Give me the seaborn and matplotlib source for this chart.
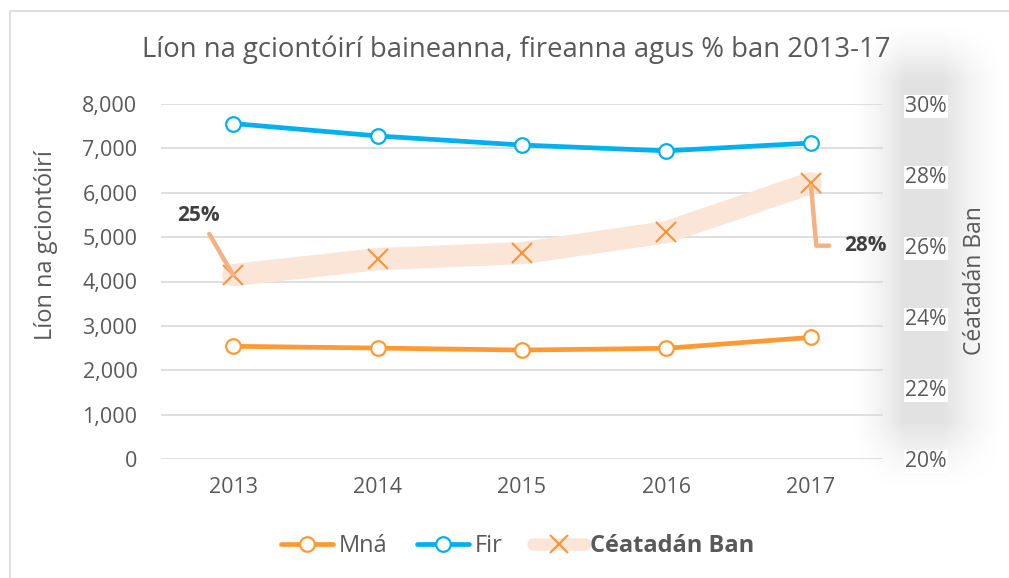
import numpy as np
import pandas as pd
import matplotlib
matplotlib.use("Agg")
import matplotlib.pyplot as plt
from matplotlib.lines import Line2D
import seaborn as sns

# data
years = ["2013", "2014", "2015", "2016", "2017"]
mna = [2540, 2500, 2455, 2495, 2740]
fir = [7560, 7280, 7075, 6945, 7120]
pct_ban = [0.2518, 0.2563, 0.2580, 0.2639, 0.2777]

ORANGE = "#FF9933"
BLUE = "#00B0F0"
BAND = "#FBE5D6"
XMARK = "#F7953D"
LEADER = "#F4B183"
GREY = "#595959"

sns.set_theme(style="white")
plt.rcParams["font.family"] = ["Open Sans", "DejaVu Sans"]

df = pd.DataFrame({"idx": range(len(years)), "Mná": mna, "Fir": fir, "pct": pct_ban})

fig = plt.figure(figsize=(10.09, 5.78), dpi=100)

# outer frame of the chart area
fig.patches.append(plt.Rectangle((10 / 1009, -0.1), 1.2, 1 - 11 / 578 + 0.1,
                                 transform=fig.transFigure, fill=False,
                                 edgecolor="#D9D9D9", lw=1.2, zorder=0))

# soft grey glow behind the secondary axis
bg = fig.add_axes([848 / 1009, 1 - 495 / 578, 161 / 1009, 475 / 578], zorder=-1)
gx = np.linspace(0, 1, 161)
gy = np.linspace(0, 1, 475)
px = np.clip(gx / 0.35, 0, 1) ** 1.5 * np.clip((1.0 - gx) / 0.4, 0, 1) ** 1.5
py = np.clip(gy / 0.12, 0, 1) ** 1.5 * np.clip((1 - gy) / 0.15, 0, 1) ** 1.5
prof = py[:, None] * px[None, :]
bg.imshow(1 - 0.11 * prof, cmap="gray", vmin=0, vmax=1, aspect="auto", interpolation="bilinear")
bg.axis("off")

ax = fig.add_axes([161 / 1009, 1 - 459 / 578, 722 / 1009, 355 / 578])
ax.set_facecolor("none")

sns.lineplot(data=df, x="idx", y="Mná", ax=ax, color=ORANGE, lw=3.4, marker="o",
             markersize=10.5, markerfacecolor="white", markeredgecolor=ORANGE,
             markeredgewidth=1.6, label="Mná", legend=False, zorder=5)
sns.lineplot(data=df, x="idx", y="Fir", ax=ax, color=BLUE, lw=3.4, marker="o",
             markersize=10.5, markerfacecolor="white", markeredgecolor=BLUE,
             markeredgewidth=1.6, label="Fir", legend=False, zorder=5)

ax.set_xlim(-0.5, len(years) - 0.5)
ax.set_ylim(0, 8000)
ax.set_yticks(range(0, 8001, 1000))
ax.set_yticklabels([f"{v:,}" for v in range(0, 8001, 1000)])
ax.set_xticks(range(len(years)))
ax.set_xticklabels(years)
ax.grid(axis="y", color="#D9D9D9", lw=1.2)
ax.grid(axis="x", visible=False)
for s in ax.spines.values():
    s.set_visible(False)
ax.tick_params(axis="y", length=0, pad=17, labelsize=15.5, labelcolor=GREY)
ax.tick_params(axis="x", length=0, pad=13, labelsize=15.5, labelcolor=GREY)
ax.set_xlabel("")
ax.set_ylabel("Líon na gciontóirí", fontsize=17, color=GREY)
ax.yaxis.set_label_coords(-103 / 722, (459 - 245) / 355)

ax2 = ax.twinx()
ax2.set_facecolor("none")
sns.lineplot(data=df, x="idx", y="pct", ax=ax2, color=BAND, lw=16,
             solid_capstyle="round", solid_joinstyle="round", legend=False, zorder=2)
sns.lineplot(data=df, x="idx", y="pct", ax=ax2, color=XMARK, lw=0, marker="x",
             markersize=14, markeredgecolor=XMARK, markeredgewidth=1.5,
             legend=False, zorder=3)
ax2.set_ylim(0.20, 0.30)
ax2.set_yticks(np.arange(0.20, 0.301, 0.02))
ax2.set_yticklabels([f"{round(v * 100)}%" for v in np.arange(0.20, 0.301, 0.02)])
for s in ax2.spines.values():
    s.set_visible(False)
ax2.tick_params(axis="y", length=0, pad=16, labelsize=15.2, labelcolor=GREY)
for t in ax2.get_yticklabels():
    t.set_bbox(dict(facecolor="white", edgecolor="none", pad=1.0))
ax2.set_ylabel("Céatadán Ban", fontsize=16.5, color=GREY, rotation=90)
ax2.yaxis.set_label_coords(1 + 80 / 722, (459 - 281) / 355)
ax2.set_xlabel("")

# data labels for first and last point
ax2.annotate(f"{round(pct_ban[0] * 100)}%", xy=(0, pct_ban[0]), xytext=(-25, 43),
             textcoords="offset points", ha="center", va="center",
             fontsize=15, fontweight="bold", color="#404040",
             arrowprops=dict(arrowstyle="-", color=LEADER, lw=3.2,
                             shrinkA=4, shrinkB=0))
ax2.annotate(f"{round(pct_ban[-1] * 100)}%", xy=(len(years) - 1, pct_ban[-1]),
             xytext=(39, -45), textcoords="offset points", ha="center", va="center",
             fontsize=15, fontweight="bold", color="#404040",
             arrowprops=dict(arrowstyle="-", color=LEADER, lw=3.2,
                             connectionstyle="angle,angleA=0,angleB=95,rad=0",
                             shrinkA=8, shrinkB=2))

fig.text(516 / 1009, 1 - 50 / 578, "Líon na gciontóirí baineanna, fireanna agus % ban 2013-17",
         ha="center", va="center", fontsize=19.8, color=GREY)

handles = [
    Line2D([], [], color=ORANGE, lw=3.4, marker="o", markersize=10.5,
           markerfacecolor="white", markeredgecolor=ORANGE, markeredgewidth=1.6),
    Line2D([], [], color=BLUE, lw=3.4, marker="o", markersize=10.5,
           markerfacecolor="white", markeredgecolor=BLUE, markeredgewidth=1.6),
    Line2D([], [], color=BAND, lw=9, marker="x", markersize=13,
           markeredgecolor=XMARK, markeredgewidth=1.5, solid_capstyle="round"),
]
leg = fig.legend(handles, ["Mná", "Fir", "Céatadán Ban"], loc="center",
                 bbox_to_anchor=(518 / 1009, 1 - 546 / 578), ncol=3, frameon=False,
                 fontsize=17, handlelength=2.2, handletextpad=0.25, columnspacing=1.25)
for t in leg.get_texts():
    t.set_color(GREY)
leg.get_texts()[2].set_fontweight("bold")

fig.savefig("out.png", dpi=100)
